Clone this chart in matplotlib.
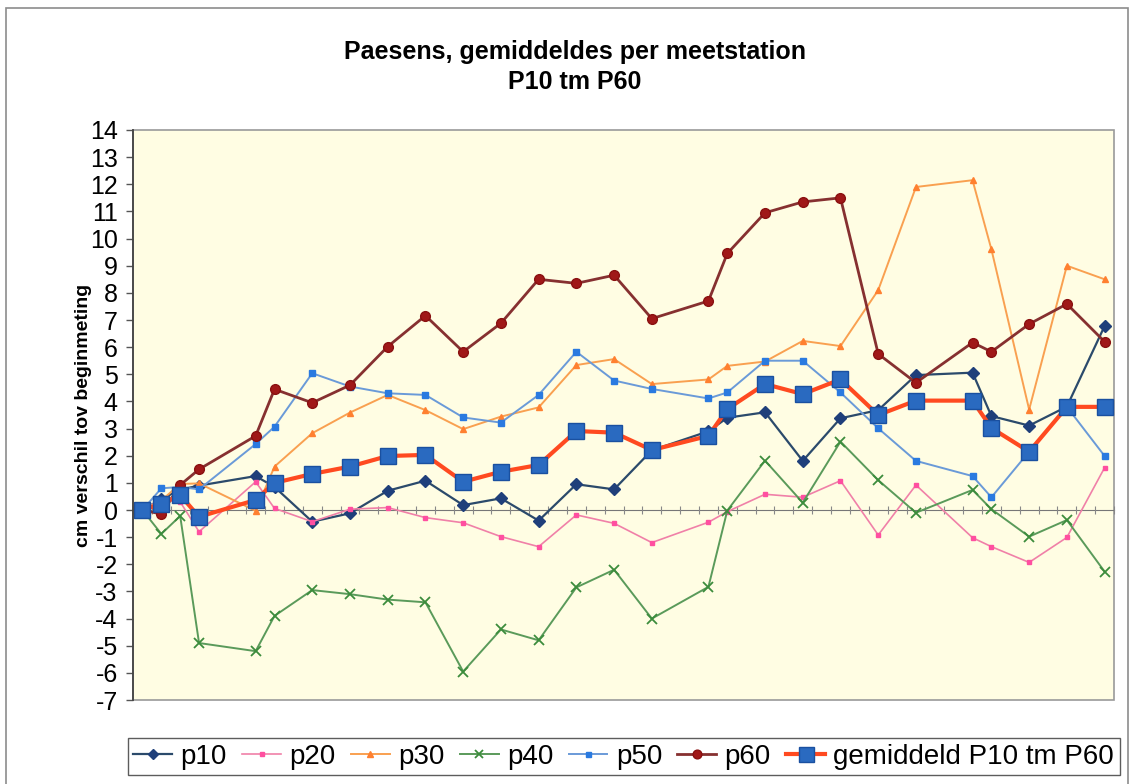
import numpy as np
import matplotlib
matplotlib.use("Agg")
import matplotlib.pyplot as plt
from matplotlib.patches import Rectangle

plt.rcParams['font.family'] = ['Liberation Sans', 'DejaVu Sans']
plt.rcParams['axes.unicode_minus'] = False

# category index (monthly date axis, 52 slots) of each measurement
idx = [0, 1, 2, 3, 6, 7, 9, 11, 13, 15, 17, 19, 21, 23, 25, 27, 30, 31, 33, 35,
       37, 39, 41, 44, 45, 47, 49, 51]

p10 = [0, 0.4, 0.75, 0.9, 1.25, 0.85, -0.43, -0.12, 0.71, 1.08, 0.18, 0.43, -0.39, 0.95,
       0.76, 2.2, 2.9, 3.4, 3.6, 1.81, 3.38, 3.68, 4.97, 5.06, 3.46, 3.11, 3.81, 6.78]
p20 = [0, 0.4, 0.3, -0.8, 1.04, 0.06, -0.43, 0.03, 0.09, -0.28, -0.47, -0.98, -1.35, -0.18,
       -0.49, -1.2, -0.45, -0.06, 0.58, 0.47, 1.08, -0.92, 0.92, -1.02, -1.35, -1.93, -1.01, 1.56]
p30 = [0, 0.35, 0.96, 0.98, -0.03, 1.6, 2.83, 3.59, 4.24, 3.68, 2.98, 3.44, 3.78, 5.34,
       5.56, 4.64, 4.81, 5.31, 5.47, 6.23, 6.04, 8.1, 11.9, 12.15, 9.6, 3.7, 9.0, 8.5]
p40 = [0, -0.88, -0.22, -4.9, -5.2, -3.9, -2.95, -3.1, -3.3, -3.4, -5.95, -4.4, -4.8, -2.85,
       -2.2, -4.0, -2.83, -0.02, 1.82, 0.27, 2.52, 1.1, -0.1, 0.74, 0.03, -0.98, -0.37, -2.27]
p50 = [0, 0.8, 0.85, 0.76, 2.43, 3.07, 5.04, 4.55, 4.3, 4.24, 3.41, 3.22, 4.24, 5.83,
       4.77, 4.46, 4.11, 4.33, 5.5, 5.5, 4.33, 3.01, 1.81, 1.25, 0.47, 2.15, 3.8, 1.99]
p60 = [0, -0.15, 0.92, 1.5, 2.73, 4.45, 3.95, 4.6, 6.02, 7.16, 5.83, 6.88, 8.5, 8.35,
       8.65, 7.05, 7.7, 9.45, 10.95, 11.35, 11.5, 5.75, 4.69, 6.17, 5.83, 6.85, 7.59, 6.2]
gem = [0, 0.22, 0.55, -0.25, 0.37, 1.0, 1.33, 1.6, 1.99, 2.03, 1.04, 1.41, 1.66, 2.91,
       2.85, 2.21, 2.73, 3.72, 4.64, 4.27, 4.81, 3.5, 4.03, 4.03, 3.02, 2.15, 3.8, 3.8]

n_cat = 52

fig = plt.figure(figsize=(11.34, 7.84), dpi=100)
fig.patch.set_facecolor('white')
# outer chart frame
fig.add_artist(Rectangle((0.005, -0.01), 0.99, 1.0, transform=fig.transFigure,
                         fill=False, edgecolor='#8c8c8c', linewidth=1.2))

ax = fig.add_axes([0.1173, 0.1071, 0.8651, 0.7271])
ax.set_facecolor('#fffde3')
ax.patch.set_edgecolor('#9a9a9a')
ax.patch.set_linewidth(1.2)

ax.plot(idx, p10, color='#2b4a6b', lw=1.6, marker='D', ms=6, mfc='#1f3f7a', mec='#1f3f7a', label='p10')
ax.plot(idx, p20, color='#f080a8', lw=1.2, marker='s', ms=3.5, mfc='#ff4fa0', mec='#ff4fa0', label='p20')
ax.plot(idx, p30, color='#f9a050', lw=1.4, marker='^', ms=4.5, mfc='#ff8030', mec='#ff8030', label='p30')
ax.plot(idx, p40, color='#5a9a5a', lw=1.4, marker='x', ms=7, mew=1.3, mfc='none', mec='#3c8c3c', label='p40')
ax.plot(idx, p50, color='#6a9ad8', lw=1.4, marker='s', ms=4, mfc='#2a7ae0', mec='#2a7ae0', label='p50')
ax.plot(idx, p60, color='#863030', lw=2.0, marker='o', ms=7, mfc='#a01818', mec='#8a1010', label='p60')
ax.plot(idx, gem, color='#ff4a20', lw=3, marker='s', ms=12, mfc='#2a6ac0', mec='#1a50a0',
        label='gemiddeld P10 tm P60')

ax.set_xlim(-0.5, n_cat - 0.5)
ax.set_ylim(-7, 14)
ax.set_yticks(np.arange(-7, 15, 1))
ax.tick_params(axis='y', direction='out', length=5, width=1, color='#555555',
               labelsize=18, pad=6)

# category axis crossing at zero, tick marks between categories
ax.spines['bottom'].set_position(('data', 0))
ax.spines['bottom'].set_color('#777777')
ax.spines['bottom'].set_zorder(1)
ax.set_xticks(np.arange(-0.5, n_cat, 1))
ax.set_xticklabels([])
ax.tick_params(axis='x', direction='inout', length=6, width=0.8, color='#888888')
ax.spines['top'].set_visible(False)
ax.spines['right'].set_visible(False)
ax.spines['left'].set_color('#444444')
ax.spines['left'].set_linewidth(1.3)

ax.set_ylabel('cm verschil tov beginmeting', fontsize=14, fontweight='bold')
ax.yaxis.set_label_coords(-0.042, 0.5)

fig.text(0.507, 0.934, 'Paesens, gemiddeldes per meetstation', ha='center', va='center',
         fontsize=18, fontweight='bold')
fig.text(0.507, 0.895, 'P10 tm P60', ha='center', va='center',
         fontsize=18, fontweight='bold')

leg = fig.legend(loc='center', bbox_to_anchor=(0.55, 0.035), ncol=7, fontsize=20,
                 frameon=True, fancybox=False, edgecolor='#333333', handlelength=1.4,
                 handletextpad=0.3, columnspacing=0.55, borderpad=0.2, markerscale=0.9)
leg.get_frame().set_linewidth(1.0)

fig.savefig('out.png', dpi=100)
